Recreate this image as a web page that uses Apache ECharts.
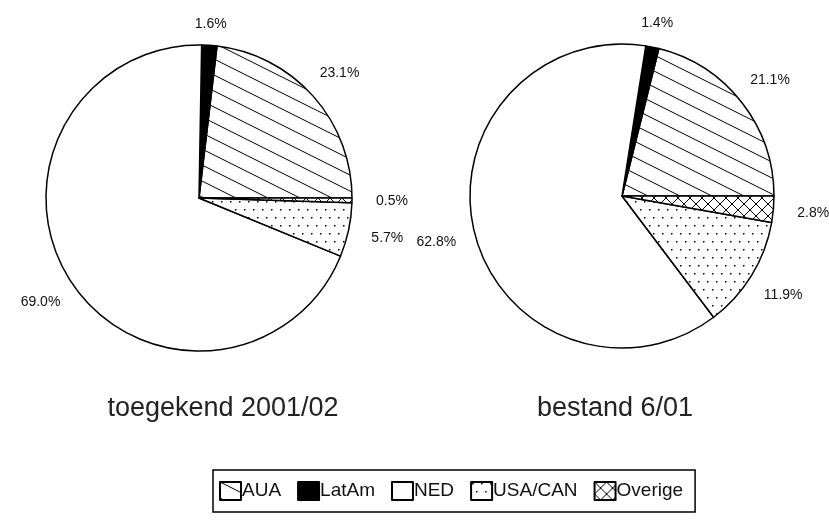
<!DOCTYPE html>
<html>
<head>
<meta charset="utf-8">
<script src="https://cdn.jsdelivr.net/npm/echarts@6/dist/echarts.min.js"></script>
<style>
  html, body { margin: 0; padding: 0; background: #fff; }
  #chart { width: 829px; height: 532px; }
</style>
</head>
<body>
<div id="chart"></div>
<script>
// data
const categories = ['AUA', 'LatAm', 'NED', 'USA/CAN', 'Overige']
const valuesToegekend = [23.1, 1.6, 69.0, 5.7, 0.5]
const valuesBestand = [21.1, 1.4, 62.8, 11.9, 2.8]
const pieTitles = ['toegekend 2001/02', 'bestand 6/01']

// pie geometry
const pies = [
  { center: [199, 198], radius: 153 },
  { center: [622, 196], radius: 152 }
]

// fill patterns
function makeTile (w, h, draw) {
  const c = document.createElement('canvas')
  c.width = w
  c.height = h
  const ctx = c.getContext('2d')
  ctx.fillStyle = '#fff'
  ctx.fillRect(0, 0, w, h)
  ctx.strokeStyle = '#000'
  ctx.fillStyle = '#000'
  ctx.lineWidth = 1
  draw(ctx)
  return { image: c, repeat: 'repeat' }
}

const hatch = makeTile(32, 16, ctx => {
  ctx.beginPath()
  for (let k = -1; k <= 1; k++) {
    ctx.moveTo(-2, -1 + k * 16)
    ctx.lineTo(34, 17 + k * 16)
  }
  ctx.stroke()
})
const dots = makeTile(18, 16, ctx => {
  ctx.fillRect(1, 1, 1.5, 1.5)
  ctx.fillRect(10, 1, 1.5, 1.5)
  ctx.fillRect(5, 9, 1.5, 1.5)
  ctx.fillRect(14, 9, 1.5, 1.5)
})
const cross = makeTile(12, 12, ctx => {
  ctx.beginPath()
  ctx.moveTo(-1, -1); ctx.lineTo(13, 13)
  ctx.moveTo(13, -1); ctx.lineTo(-1, 13)
  ctx.stroke()
})
const fills = [hatch, '#000', '#fff', dots, cross]

function buildData (values) {
  return categories.map((name, i) => ({
    name: name,
    value: values[i],
    itemStyle: { color: fills[i] }
  }))
}

// label centre, placed round the slice's mid angle
function labelPos (values, idx, pie) {
  const sum = values.reduce((a, b) => a + b, 0)
  let cum = 0
  for (let i = 0; i < idx; i++) cum += values[i]
  const mid = (cum + values[idx] / 2) / sum * 2 * Math.PI
  const cos = Math.cos(mid)
  const sin = Math.sin(mid)
  const r = pie.radius + 20 + Math.abs(cos) * 20
  return {
    x: pie.center[0] + r * cos,
    y: pie.center[1] - r * sin,
    align: 'center',
    verticalAlign: 'middle'
  }
}

function pieSeries (values, pie) {
  return {
    type: 'pie',
    center: pie.center,
    radius: pie.radius,
    startAngle: 0,
    clockwise: false,
    silent: true,
    avoidLabelOverlap: false,
    itemStyle: { borderColor: '#000', borderWidth: 1.5 },
    label: {
      show: true,
      position: 'outside',
      overflow: 'none',
      color: '#111',
      fontFamily: 'Liberation Sans',
      fontSize: 14,
      formatter: p => p.value.toFixed(1) + '%'
    },
    labelLine: { show: false },
    labelLayout: params => labelPos(values, params.dataIndex, pie),
    emphasis: { disabled: true },
    data: buildData(values)
  }
}

const myChart = echarts.init(document.getElementById('chart'))
myChart.setOption({
  backgroundColor: '#fff',
  animation: false,
  title: pieTitles.map((t, i) => ({
    text: t,
    left: [218, 610][i],
    top: 390,
    textAlign: 'center',
    textStyle: {
      fontFamily: 'Liberation Sans',
      fontWeight: 'normal',
      fontSize: 27,
      color: '#222'
    }
  })),
  legend: {
    data: categories,
    left: 213,
    top: 470,
    borderColor: '#000',
    borderWidth: 1.5,
    borderRadius: 0,
    padding: [11, 12, 11, 6],
    itemGap: 16,
    itemWidth: 21,
    itemHeight: 18,
    icon: 'rect',
    selectedMode: false,
    textStyle: {
      fontFamily: 'Liberation Sans',
      fontSize: 19,
      color: '#111',
      padding: [0, 0, 0, -4]
    }
  },
  series: [
    pieSeries(valuesToegekend, pies[0]),
    pieSeries(valuesBestand, pies[1])
  ]
})
</script>
</body>
</html>
